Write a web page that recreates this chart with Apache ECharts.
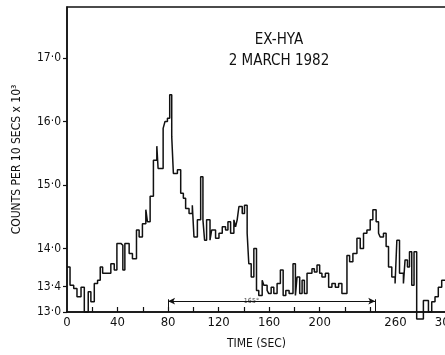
<!DOCTYPE html>
<html>
<head>
<meta charset="utf-8">
<script src="https://cdn.jsdelivr.net/npm/echarts@6/dist/echarts.min.js"></script>
<style>html,body{margin:0;padding:0;background:#fff}#c{width:445px;height:355px}</style>
</head>
<body>
<div id="c"></div>
<script>
// Left edge of each step (seconds); final entry is the end of the last step
const times = [0,2.4,5.3,7.9,11.1,13.7,16.8,18.9,21.6,24.2,
26.3,28.2,34.7,37.4,39.5,42.6,44.2,45.8,49.2,51.8,
55.0,57.1,59.7,62.4,63.7,65.8,68.4,71.1,72.1,76.1,
77.6,79.5,81.3,82.9,84.2,87.4,90.0,92.1,93.9,96.6,
99.2,100.5,103.2,105.8,107.6,108.9,110.5,113.2,114.5,117.6,
120.3,122.9,125.5,127.4,129.5,132.1,133.4,134.7,136.1,138.7,
140.5,142.6,143.9,145.8,147.9,150.0,151.8,154.5,155.8,158.4,
159.7,161.6,163.7,166.3,168.9,171.1,173.2,175.8,178.9,180.8,
182.1,184.2,186.1,187.9,190.0,193.9,195.8,197.9,200.0,201.8,
204.5,207.1,209.7,212.4,215.0,217.6,221.6,223.7,226.3,229.5,
232.1,234.7,237.4,240.0,242.1,244.7,246.6,247.9,250.5,252.6,
254.5,257.1,259.7,261.1,263.2,266.3,267.6,269.5,271.1,272.9,
274.7,276.8,282.1,286.1,288.7,291.3,293.9,296.6,299.2];
// Counts per 10 s (x 10^3)
const counts = [13.71,13.42,13.37,13.24,13.39,13.00,13.32,13.16,13.45,13.50,
13.71,13.61,13.76,13.66,14.08,14.05,13.66,14.08,13.92,13.84,
14.29,14.18,14.39,14.61,14.42,14.82,15.39,15.61,15.26,15.89,
16.00,16.05,16.42,15.76,15.18,15.24,14.87,14.79,14.63,14.55,
14.68,14.18,14.45,15.13,14.45,14.13,14.45,14.13,14.29,14.16,
14.24,14.34,14.29,14.42,14.24,14.45,14.34,14.45,14.66,14.55,
14.68,14.24,13.76,13.55,14.00,13.34,13.26,13.50,13.42,13.34,
13.29,13.39,13.29,13.45,13.66,13.26,13.34,13.29,13.76,13.26,
13.55,13.29,13.50,13.29,13.61,13.68,13.63,13.74,13.61,13.55,
13.61,13.39,13.45,13.39,13.45,13.29,13.89,13.79,13.92,14.16,
14.00,14.24,14.29,14.45,14.61,14.42,14.24,14.18,14.24,14.03,
13.71,13.55,13.45,14.13,13.61,13.45,13.82,13.71,13.95,13.42,
13.95,12.89,13.18,13.00,13.16,13.24,13.39,13.50];
const xLabels = [0,40,80,120,160,200,260,300];
const xTicks = [20,40,60,80,100,120,140,160,180,200,220,240];
const yLabels = [13.0,13.4,14.0,15.0,16.0,17.0];
const spanStart = 80, spanEnd = 244, spanLevel = 13.17, spanText = '165°';

const pts = [];
for (let i = 0; i < counts.length; i++) pts.push([times[i], counts[i]]);
pts.push([times[counts.length], counts[counts.length-1]]);

const FONT = "'Liberation Sans Narrow','DejaVu Sans Condensed','Liberation Sans',sans-serif";
const chart = echarts.init(document.getElementById('c'), null, {renderer:'canvas'});
chart.setOption({
  animation:false,
  backgroundColor:'#fff',
  title:{
    text:'EX-HYA\n2 MARCH 1982',
    left:274, top:25, textAlign:'center',
    textStyle:{fontFamily:FONT,fontSize:15,fontWeight:'normal',color:'#111',lineHeight:21}
  },
  grid:{left:67,right:-1,top:7,bottom:43,show:true,borderColor:'#111',borderWidth:1.5,
    backgroundColor:'transparent',containLabel:false,outerBoundsMode:'none'},
  xAxis:{
    type:'value',min:0,max:300,
    name:'TIME (SEC)',nameLocation:'middle',nameGap:26,
    nameTextStyle:{fontFamily:FONT,fontSize:12,color:'#111'},
    axisLine:{show:true,onZero:false,lineStyle:{color:'#111',width:1.5}},
    axisTick:{show:true,inside:true,length:5,customValues:xTicks,lineStyle:{color:'#111',width:1.2}},
    axisLabel:{customValues:xLabels,fontFamily:FONT,fontSize:13,color:'#111',margin:4,
      hideOverlap:false,showMaxLabel:true,formatter:v=>String(v)},
    splitLine:{show:false}
  },
  yAxis:{
    type:'value',min:13,max:17.8,
    name:'COUNTS PER 10 SECS x 10³',nameLocation:'middle',nameGap:44,nameRotate:90,
    nameTextStyle:{fontFamily:FONT,fontSize:12,color:'#111'},
    axisLine:{show:true,lineStyle:{color:'#111',width:1.5}},
    axisTick:{show:true,inside:false,length:4,customValues:yLabels,lineStyle:{color:'#111',width:1.2}},
    axisLabel:{customValues:yLabels,fontFamily:FONT,fontSize:12,color:'#111',margin:6,
      formatter:v=>v.toFixed(1).replace('.','·')},
    splitLine:{show:false}
  },
  series:[{
    type:'line',step:'end',data:pts,showSymbol:false,clip:false,
    lineStyle:{color:'#111',width:1.5},
    markLine:{
      silent:true,symbol:['none','none'],
      lineStyle:{color:'#111',width:1,type:'solid'},
      label:{show:false},
      data:[
        [{coord:[spanStart,spanLevel],symbol:'arrow',symbolSize:[5,7]},
         {coord:[spanEnd,spanLevel],symbol:'arrow',symbolSize:[5,7]}],
        [{coord:[spanStart,13]},{coord:[spanStart,spanLevel+0.03]}],
        [{coord:[spanEnd,13]},{coord:[spanEnd,spanLevel+0.03]}]
      ]
    }
  },{
    type:'scatter',data:[[ (spanStart+spanEnd)/2 - 16, spanLevel]],symbolSize:0,
    label:{show:true,formatter:spanText,position:'inside',fontFamily:FONT,fontSize:7,color:'#111',
      backgroundColor:'#fff',padding:[0,1]},
    silent:true
  }]
});
</script>
</body>
</html>
